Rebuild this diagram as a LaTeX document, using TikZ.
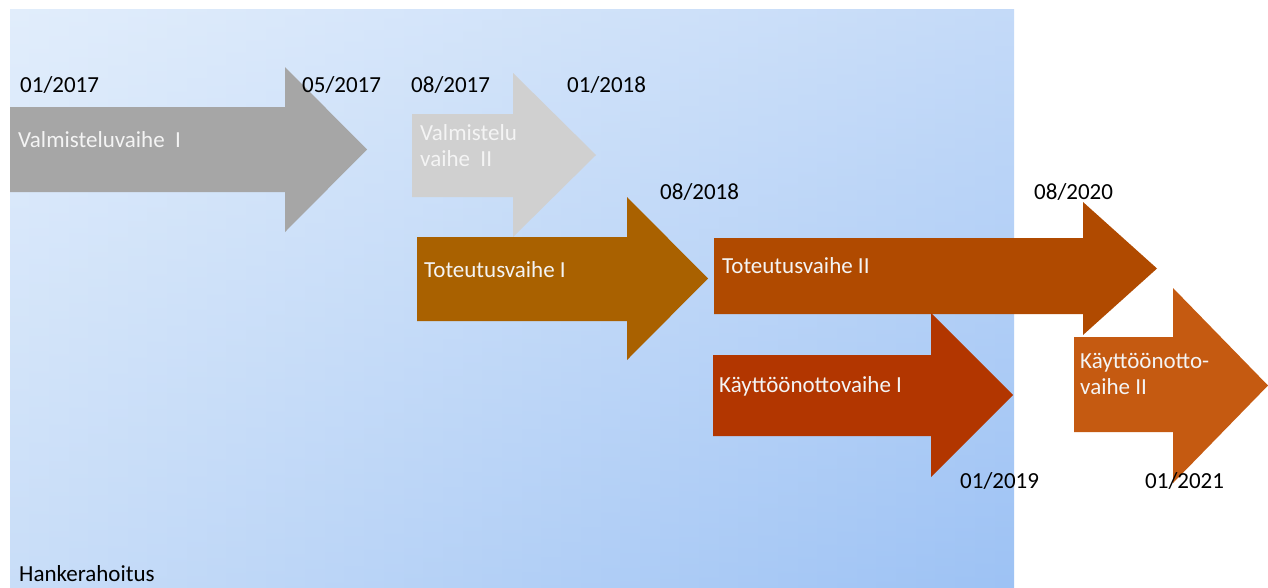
\documentclass[tikz,border=0pt]{standalone}
\usepackage{fontspec}
\setmainfont{Carlito}
\definecolor{bgTL}{HTML}{E1EDFB}
\definecolor{bgTR}{HTML}{C4DAF8}
\definecolor{bgBL}{HTML}{C8DDF8}
\definecolor{bgBR}{HTML}{9DC2F4}
\definecolor{grayA}{HTML}{A6A6A6}
\definecolor{grayB}{HTML}{D0D0D0}
\definecolor{totA}{HTML}{A96100}
\definecolor{totB}{HTML}{B04A00}
\definecolor{kayA}{HTML}{B23600}
\definecolor{kayB}{HTML}{C55A11}
\definecolor{txtW}{HTML}{F4F4F4}
\newcommand{\phasearrow}[8]{%
  % #1 colour, #2 body left x, #3 body top y, #4 body bottom y, #5 head base x, #6 head top y, #7 head bottom y, #8 tip x
  \fill[#1] (#2,#3) -- (#5,#3) -- (#5,#6) -- (#8,{(#6+#7)/2}) -- (#5,#7) -- (#5,#4) -- (#2,#4) -- cycle;}
\begin{document}
\begin{tikzpicture}[x=1pt,y=-1pt,
  datelbl/.style={anchor=base west,inner sep=0pt,font=\fontsize{23}{26}\selectfont,text=black},
  phaselbl/.style={anchor=base west,inner sep=0pt,font=\fontsize{23}{26}\selectfont,text=txtW,align=left}]
\useasboundingbox (0,0) rectangle (1268,587);
\fill[white] (0,0) rectangle (1268,587);
% background: bilinear gradient built from vertical strips
\begin{scope}
\clip (10,9) rectangle (1014,587);
\foreach \i in {0,...,50}{
  \pgfmathtruncatemacro{\p}{\i*2}
  \pgfmathsetmacro{\xa}{10+\i*19.7}
  \shade[top color=bgTR!\p!bgTL,bottom color=bgBR!\p!bgBL] (\xa,9) rectangle ({\xa+21},587);
}
\end{scope}
% arrows
\phasearrow{grayA}{10}{107}{192}{285}{67}{232}{367}
\phasearrow{grayB}{412}{114}{197}{513}{73}{237}{596}
\phasearrow{totA}{417}{237}{321}{627}{197}{360}{708}
\phasearrow{totB}{714}{238}{314}{1083}{202}{335}{1157}
\phasearrow{kayA}{713}{355}{436}{931}{313}{477}{1013}
\phasearrow{kayB}{1074}{337}{432}{1173}{288}{483}{1268}
% phase labels
\node[phaselbl] (p1) at (18,147) {Valmisteluvaihe\ \ I};
\node[phaselbl] (p2a) at (420,140) {Valmistelu};
\node[phaselbl] (p2b) at (420,166) {vaihe\ \ II};
\node[phaselbl] (p3) at (424,277) {Toteutusvaihe I};
\node[phaselbl] (p4) at (722,273) {Toteutusvaihe II};
\node[phaselbl] (p5) at (719,392) {Käyttöönottovaihe I};
\node[phaselbl] (p6a) at (1080,368) {Käyttöönotto-};
\node[phaselbl] (p6b) at (1080,394) {vaihe II};
% dates
\node[datelbl] (d1) at (20,92) {01/2017};
\node[datelbl] (d2) at (302,92) {05/2017};
\node[datelbl] (d3) at (411,92) {08/2017};
\node[datelbl] (d4) at (567,92) {01/2018};
\node[datelbl] (d5) at (660,199) {08/2018};
\node[datelbl] (d6) at (1034,199) {08/2020};
\node[datelbl] (d7) at (960,488) {01/2019};
\node[datelbl] (d8) at (1145,488) {01/2021};
\node[datelbl] (hk) at (19,581) {Hankerahoitus};
\end{tikzpicture}
\end{document}
